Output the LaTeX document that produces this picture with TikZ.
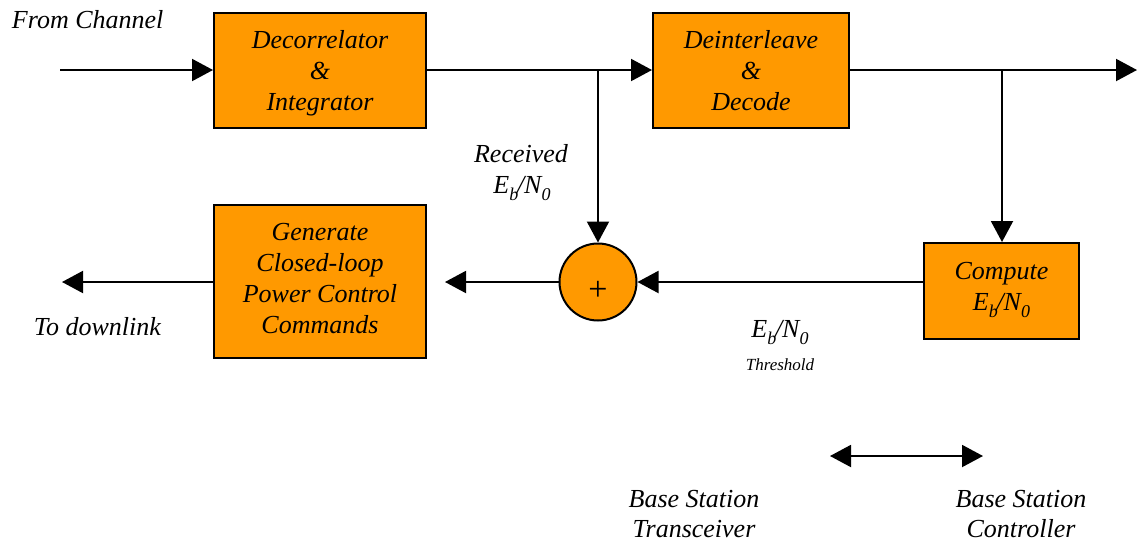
\documentclass[tikz,border=0pt]{standalone}
\usepackage{fontspec}
\setmainfont{Liberation Serif}
\usetikzlibrary{arrows.meta}
\definecolor{blockorange}{RGB}{255,153,0}
% italic subscript used in E_b/N_0
\newcommand\lowsub[1]{\raisebox{-0.28em}{\fontsize{18}{18}\selectfont #1}}
\newcommand\EbNo{E\lowsub{b}\kern-0.05em/N\lowsub{0}}
\begin{document}
\begin{tikzpicture}[x=1pt,y=-1pt,
  line width=2pt,
  >={Triangle[length=21pt,width=22pt]},
  txt/.style={font=\fontsize{26}{31}\selectfont\itshape, inner sep=0pt},
  block/.style={draw=black, fill=blockorange, line width=2pt, align=center,
    inner sep=0pt, font=\fontsize{26}{31}\selectfont\itshape},
  summer/.style={circle, draw=black, fill=blockorange, line width=2pt,
    minimum size=77pt, inner sep=0pt, font=\fontsize{34}{34}\selectfont,
    text height=37pt, text depth=0pt}]
\useasboundingbox (0,0) rectangle (1144,542);

% processing blocks
\node[block, minimum width=212pt, minimum height=115pt, text depth=1pt] (dec) at (320,70.5)
  {Decorrelator\\\&\\Integrator};
\node[block, minimum width=196pt, minimum height=115pt, text depth=1pt] (dei) at (751,70.5)
  {Deinterleave\\\&\\Decode};
\node[block, minimum width=212pt, minimum height=153pt, text depth=5.6pt] (gen) at (320,281.5)
  {Generate\\Closed-loop\\Power Control\\Commands};
\node[block, minimum width=155pt, minimum height=96pt, text depth=9pt] (cmp) at (1001.5,291)
  {Compute\\\EbNo};
\node[summer] (sum) at (598,282) {+};

% free ends and branch points
\coordinate (in) at (60,70);
\coordinate (out) at (1137,70);
\coordinate (tap1) at (598,70);
\coordinate (tap2) at (1002,70);
\coordinate (genin) at (445,282);
\coordinate (down) at (62,282);
\coordinate (bl) at (830,456);
\coordinate (br) at (983,456);

% signal path
\draw[->] (in) -- (dec.west |- in);
\draw[->] (dec.east |- tap1) -- (dei.west |- tap1);
\draw[->] (tap1) -- (sum.north);
\draw[->] (dei.east |- tap2) -- (out);
\draw[->] (tap2) -- (cmp.north -| tap2);
\draw[->] (cmp.west |- sum) -- (sum.east);
\draw[->] (sum.west) -- (genin);
\draw[->] (gen.west |- down) -- (down);
\draw[<->] (bl) -- (br);

% labels
\node[txt, anchor=base west] (fromch) at (11,28) {From Channel};
\node[txt, anchor=base west] (todown) at (33,335) {To downlink};
\node[txt, anchor=base] (recv) at (521,162) {Received};
\node[txt, anchor=base] (recveb) at (522,193) {\EbNo};
\node[txt, anchor=base] (threb) at (780,337) {\EbNo};
\node[inner sep=0pt, anchor=base, font=\fontsize{17}{17}\selectfont\itshape] (thr) at (780,370) {Threshold};
\node[txt, anchor=base] (bts1) at (694,507) {Base Station};
\node[txt, anchor=base] (bts2) at (694,537) {Transceiver};
\node[txt, anchor=base] (bsc1) at (1021,507) {Base Station};
\node[txt, anchor=base] (bsc2) at (1021,537) {Controller};
\end{tikzpicture}
\end{document}
